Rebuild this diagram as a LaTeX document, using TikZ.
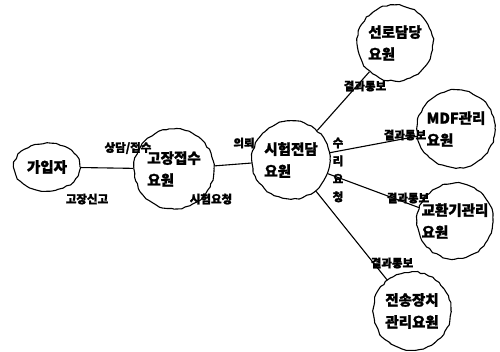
\documentclass[tikz,border=0pt]{standalone}
\usepackage{fontspec}
\setmainfont{Noto Sans CJK KR}[BoldFeatures={FakeBold=1.5}]
\usetikzlibrary{shapes.geometric,decorations.pathmorphing}
\begin{document}
\begin{tikzpicture}[x=1pt,y=-1pt,
  person/.style={circle,draw,line width=1.1pt,decorate,
    decoration={random steps,segment length=4pt,amplitude=0.8pt},
    inner sep=0pt,font=\bfseries\fontsize{14.5}{22}\selectfont,align=left},
  link/.style={line width=1.1pt},
  lbl/.style={font=\bfseries\fontsize{11.5}{12}\selectfont,inner sep=0pt}]
\useasboundingbox (0,0) rectangle (500,351);
\node[person,ellipse,minimum width=66pt,minimum height=48pt] (sub) at (47,167) {가입자};
\node[person,minimum size=80pt] (recv) at (174,169) {고장접수\\요원};
\node[person,minimum size=78pt] (test) at (291,160) {시험전담\\요원};
\node[person,minimum size=76pt] (line) at (395,43) {선로담당\\요원};
\node[person,minimum size=78pt] (mdf) at (456,129) {MDF관리\\요원};
\node[person,minimum size=76pt] (exch) at (455,221) {교환기관리\\요원};
\node[person,minimum size=78pt] (trans) at (412,311) {전송장치\\관리요원};
\draw[link] (sub) -- (recv);
\draw[link] (recv) -- (test);
\draw[link] (test) -- (line);
\draw[link] (test) -- (mdf);
\draw[link] (test) -- (exch);
\draw[link] (test) -- (trans);
\node[lbl] (l1) at (128,148) {상담/접수};
\node[lbl] (l2) at (87,199) {고장신고};
\node[lbl] (l3) at (211,199) {시험요청};
\node[lbl] (l4) at (244,143) {의뢰};
\node[lbl,align=center,font=\bfseries\fontsize{11.5}{18}\selectfont] (l5) at (338,170) {수\\리\\요\\청};
\node[lbl] (l6) at (365,86) {결과통보};
\node[lbl] (l7) at (405,135) {결과통보};
\node[lbl] (l8) at (408,198) {결과통보};
\node[lbl] (l9) at (392,263) {결과통보};
\end{tikzpicture}
\end{document}
